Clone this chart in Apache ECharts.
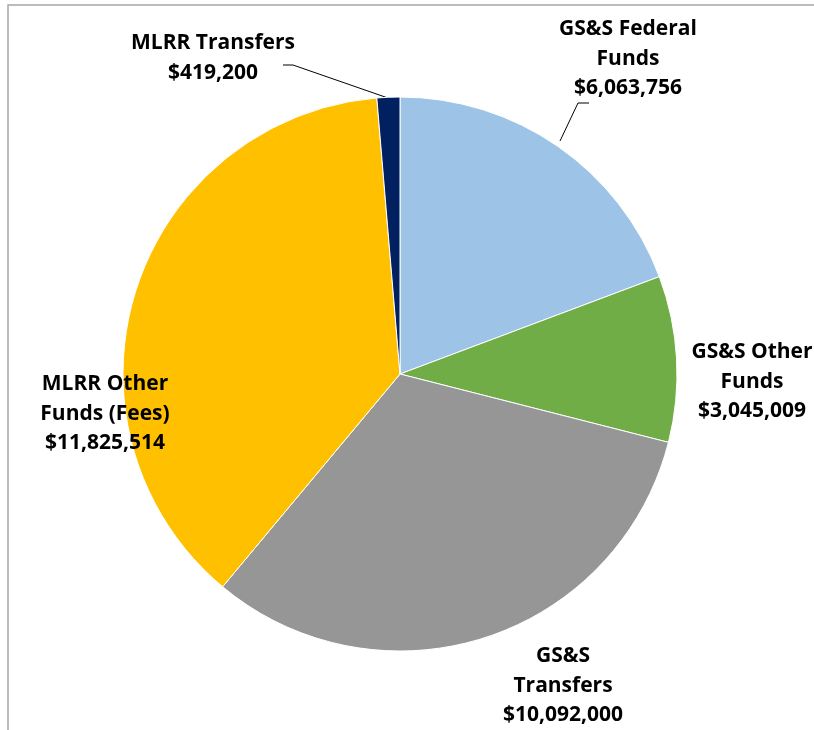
<!DOCTYPE html>
<html><head><meta charset="utf-8">
<script src="https://cdn.jsdelivr.net/npm/echarts@6/dist/echarts.min.js"></script>
<style>html,body{margin:0;padding:0;background:#fff}#c{width:814px;height:730px}</style>
</head><body><div id="c"></div>
<script>
const categories = ['GS&S Federal\nFunds', 'GS&S Other\nFunds', 'GS&S\nTransfers', 'MLRR Other\nFunds (Fees)', 'MLRR Transfers'];
const values = [6063756, 3045009, 10092000, 11825514, 419200];
const colors = ['#9DC3E6', '#70AD47', '#969696', '#FFC000', '#002060'];

// label layout (positions of label text centres and leader lines)
const labelPos = [
  {x: 628, y: 59, line: true},
  {x: 752, y: 382, line: false},
  {x: 563, y: 686, line: false},
  {x: 105, y: 414, line: false},
  {x: 213, y: 58, line: true}
];
const linePts = {
  0: [[560, 141], [578, 103], [589, 103]],
  4: [[388, 98], [293, 65], [283, 65]]
};

const fmt = v => '$' + v.toLocaleString('en-US');
const chart = echarts.init(document.getElementById('c'));
chart.setOption({
  animation: false,
  graphic: [{
    type: 'rect', shape: {x: 8, y: 5, width: 900, height: 900},
    style: {fill: 'none', stroke: '#A6A6A6', lineWidth: 1.5}, silent: true
  }],
  series: [{
    type: 'pie',
    center: [400, 374],
    radius: 277,
    startAngle: 90,
    clockwise: true,
    data: values.map((v, i) => ({
      name: categories[i], value: v,
      itemStyle: {color: colors[i]},
      labelLine: {show: labelPos[i].line}
    })),
    itemStyle: {borderColor: '#fff', borderWidth: 1},
    label: {
      show: true, position: 'outside',
      formatter: p => p.name + '\n' + fmt(p.value),
      fontFamily: 'Open Sans', fontWeight: 'bold', fontSize: 21, lineHeight: 29.5,
      color: '#000', align: 'center', overflow: 'none'
    },
    labelLine: {show: true, lineStyle: {color: '#000', width: 1}, length: 10, length2: 10},
    labelLayout: function (params) {
      const i = params.dataIndex;
      const r = {x: labelPos[i].x, y: labelPos[i].y, align: 'center', verticalAlign: 'middle'};
      if (linePts[i]) r.labelLinePoints = linePts[i];
      return r;
    }
  }]
});
</script></body></html>
